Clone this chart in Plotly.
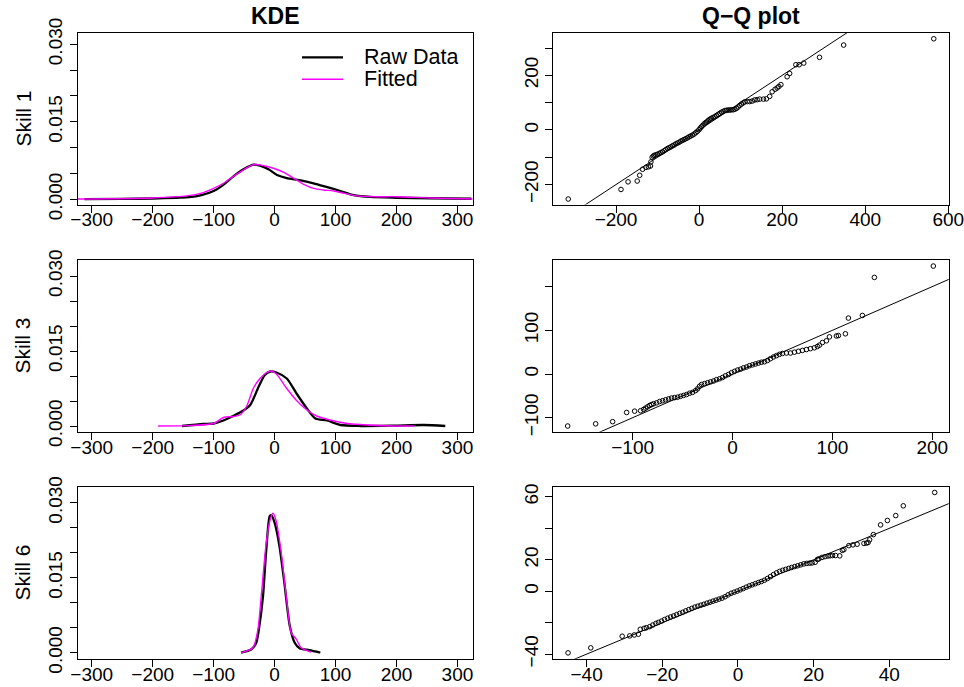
import plotly.graph_objects as go

# ---------------- data ----------------
# KDE curves (x, density)
k1_raw_x = [-312, -250, -200, -160, -140, -120, -100, -84, -68, -51, -35, -24, -10, 4, 20, 41, 64, 85, 108, 130, 157, 200, 255, 323]
k1_raw_y = [0.00003, 0.00008, 0.00015, 0.0003, 0.0004, 0.0008, 0.0016, 0.0028, 0.0044, 0.0058, 0.0067, 0.0065, 0.0058, 0.0047,
            0.0041, 0.0037, 0.0031, 0.0024, 0.0016, 0.0008, 0.00045, 0.0003, 0.0002, 0.0001]
k1_fit_x = [-324, -200, -144, -117, -100, -84, -68, -51, -35, -18, -2, 15, 31, 48, 64, 80, 97, 113, 135, 168, 200, 255, 325]
k1_fit_y = [0.00006, 0.00026, 0.00065, 0.0013, 0.0021, 0.0031, 0.0044, 0.0057, 0.0067, 0.0065, 0.006, 0.0052, 0.0041, 0.0029,
            0.0021, 0.0018, 0.0016, 0.0012, 0.00065, 0.0005, 0.0005, 0.00026, 0.00006]

k3_raw_x = [-152, -117, -100, -84, -68, -51, -40, -26, -16, -7, 3, 20, 36, 53, 67, 86, 108, 141, 196, 245, 280]
k3_raw_y = [0.0, 0.0004, 0.0005, 0.0011, 0.002, 0.0031, 0.0042, 0.0079, 0.0102, 0.0109, 0.0107, 0.0095, 0.0065, 0.0035,
            0.0015, 0.0011, 0.0002, 0.0, 0.00007, 0.0002, 0.0]
k3_fit_x = [-191, -144, -100, -84, -68, -57, -46, -35, -24, -13, -5, 3, 20, 36, 53, 69, 91, 119, 152, 196, 229]
k3_fit_y = [0.0, 0.00007, 0.0005, 0.0017, 0.0019, 0.0022, 0.0039, 0.0075, 0.0095, 0.0107, 0.011, 0.0104, 0.0075, 0.0051,
            0.0032, 0.002, 0.0012, 0.0005, 0.0002, 0.0, 0.0]

k6_raw_x = [-55, -38, -30, -25, -19, -14, -8, -5.5, 0, 8, 16, 25, 33, 41, 57, 75]
k6_raw_y = [0.0, 0.0007, 0.002, 0.0053, 0.0113, 0.02, 0.0273, 0.0275, 0.026, 0.0213, 0.014, 0.0053, 0.002, 0.0009, 0.0005, 0.0]
k6_fit_x = [-55, -35.5, -27.3, -21.9, -13.7, -7.1, -2.7, 2.7, 10.9, 19.1, 27.3, 35.5, 43.7, 60]
k6_fit_y = [0.0, 0.001, 0.0047, 0.0113, 0.022, 0.0267, 0.0279, 0.0263, 0.02, 0.0113, 0.004, 0.0027, 0.001, 0.0001]

# Q-Q points (fitted quantiles vs raw quantiles)
q1_x = [-315, -188, -171, -149, -143, -136, -128, -122, -117, -116, -113, -110,
        -108, -104, -100, -96, -92, -88, -84, -80, -76, -72, -68, -64, -60, -56, -52, -48, -44, -40, -36, -32, -28, -24,
        -20, -16, -12, -8, -4, 0, 3, 6, 9, 12, 15, 18, 21, 24, 27, 30, 34, 38, 42, 46, 50, 54, 58, 62, 66, 70, 74, 78,
        82, 86, 90, 94, 98, 102, 106, 110,
        116, 122, 128, 134, 140, 146, 155, 162, 170, 176, 183, 188, 192, 197, 212, 218, 233, 241, 252, 290, 348, 565]
q1_y = [-253, -218, -190, -187, -166, -144, -137, -135, -132, -117, -100, -96,
        -93, -91, -89, -86, -83, -80, -76, -72, -68, -65, -62, -58, -55, -51, -48, -45, -41, -38, -35, -32, -29, -25,
        -22, -19, -15, -10, -5, 1, 7, 12, 17, 22, 26, 29, 33, 37, 40, 43, 46, 49, 53, 57, 61, 65, 68, 71, 72, 73, 73, 74,
        74, 76, 79, 84, 90, 95, 99, 103,
        104, 104, 106, 110, 111, 113, 113, 114, 123, 140, 149, 154, 159, 166, 195, 207, 239, 239, 245, 266, 311, 334]

q3_x = [-165, -137, -120, -106, -98, -92, -89,
        -87, -85, -83, -81, -79, -76, -73, -70, -67, -64, -61, -58, -55, -52, -49, -46, -43, -40, -37, -35, -33, -31,
        -28, -25, -22, -19, -16, -13, -10, -7, -4, -1, 2, 5, 8, 11, 14, 17, 20, 23, 26, 29, 32, 35, 38, 41, 44, 47, 50,
        54, 58, 62, 66, 70, 74, 78, 82,
        85, 87, 90, 94, 97, 104, 106, 113, 116, 130, 142, 201]
q3_y = [-119, -114, -109, -88, -85, -84, -81,
        -78, -75, -72, -70, -68, -66, -63, -61, -59, -57, -55, -54, -53, -51, -49, -47, -44, -42, -38, -34, -28, -24,
        -22, -20, -18, -16, -13, -11, -8, -4, -1, 3, 6, 9, 11, 14, 16, 19, 21, 23, 25, 27, 28, 31, 35, 39, 42, 45, 47,
        48, 48, 50, 52, 54, 56, 58, 60,
        63, 66, 72, 76, 85, 87, 88, 92, 128, 134, 221, 247]

q6_x = [-44.9, -38.9, -30.6, -28.6, -27.4, -26.3, -25.8, -24.8, -24.2,
        -23.3, -22.5, -21.7, -21.0, -20.2, -19.4, -18.6, -17.8, -17.0, -16.2, -15.4, -14.6, -13.8, -13.0, -12.2, -11.4,
        -10.6, -9.8, -9.0, -8.2, -7.4, -6.6, -5.8, -5.0, -4.2, -3.4, -2.6, -1.8, -1.0, -0.2, 0.6, 1.4, 2.2, 3.0, 3.8,
        4.6, 5.4, 6.2, 7.0, 7.8, 8.6, 9.4, 10.2, 11.0, 11.8, 12.6, 13.4, 14.2, 15.0, 15.8, 16.6, 17.4, 18.2, 19.0,
        19.6, 20.4, 21.0, 21.4, 22.2, 23.0, 23.8, 24.4, 25.0, 25.8, 26.9, 27.6, 28.0, 29.3, 30.4, 31.5, 33.3, 34.0,
        34.4, 34.8, 35.8, 37.7, 39.5, 41.7, 43.7, 52.0]
q6_y = [-39.2, -36.0, -28.6, -28.4, -27.8, -27.3, -24.2, -23.6, -23.2,
        -22.5, -21.5, -20.5, -19.8, -19.0, -18.0, -17.2, -16.4, -15.7, -14.9, -14.1, -13.4, -12.5, -11.7, -10.9, -10.1,
        -9.5, -8.9, -8.3, -7.6, -7.0, -6.3, -5.7, -5.0, -4.4, -3.5, -2.3, -1.3, -0.6, 0.1, 0.9, 1.7, 2.6, 3.4, 4.1,
        4.8, 5.5, 6.2, 7.0, 8.1, 9.3, 10.6, 11.7, 12.6, 13.3, 13.9, 14.5, 15.1, 15.7, 16.2, 16.8, 17.4, 17.7, 17.9,
        18.0, 18.4, 20.2, 20.6, 21.5, 22.0, 22.4, 22.6, 22.7, 22.7, 22.5, 26.0, 26.5, 29.0, 29.5, 29.9, 30.4, 30.6,
        31.0, 32.7, 36.0, 42.2, 45.0, 48.1, 54.3, 62.8]

# reference line y = a + b x
qq_line_a = [0, 0, 0]
qq_line_b = [1, 1, 1]

skill_labels = ["Skill 1", "Skill 3", "Skill 6"]
col_titles = ["KDE", "Q\u2212Q plot"]
legend_labels = ["Raw Data", "Fitted"]

kde_ticks = [0, 0.005, 0.010, 0.015, 0.020, 0.025, 0.030]
kde_ticktext = ["0.000", "", "", "0.015", "", "", "0.030"]
kde_xticks = [-300, -200, -100, 0, 100, 200, 300]
q1_xticks = [-200, 0, 200, 400, 600]
q1_yticks = [-200, -100, 0, 100, 200, 300]
q1_ytext = ["\u2212200", "", "0", "", "200", ""]
q3_xticks = [-100, 0, 100, 200]
q3_yticks = [-100, 0, 100, 200]
q3_ytext = ["\u2212100", "0", "100", ""]
q6_xticks = [-40, -20, 0, 20, 40]
q6_yticks = [-40, -20, 0, 20, 40, 60]
q6_ytext = ["\u221240", "", "0", "20", "", "60"]

# ---------------- layout helpers ----------------
W, H = 964, 687
FONT = "Liberation Sans, Arial, Helvetica, sans-serif"
TICKFONT = 19

col_px = [(77.7, 472.7), (553.3, 948.7)]
row_px = [(32.5, 204.5), (259.5, 431.7), (486.5, 658.7)]

def xdom(c):
    return [col_px[c][0] / W, col_px[c][1] / W]

def ydom(r):
    return [1 - row_px[r][1] / H, 1 - row_px[r][0] / H]

fig = go.Figure()

kde_sets = [(k1_raw_x, k1_raw_y, k1_fit_x, k1_fit_y),
            (k3_raw_x, k3_raw_y, k3_fit_x, k3_fit_y),
            (k6_raw_x, k6_raw_y, k6_fit_x, k6_fit_y)]
qq_sets = [(q1_x, q1_y), (q3_x, q3_y), (q6_x, q6_y)]

kde_yranges = [[-0.00101, 0.03228], [-0.00114, 0.0333], [-0.0012, 0.03324]]
kde_xrange = [-323, 325]
qq_xranges = [[-351, 601], [-179.4, 216.4], [-48.8, 55.7]]
qq_yranges = [[-273, 357], [-132, 262], [-42.9, 66.6]]
qq_xticks = [q1_xticks, q3_xticks, q6_xticks]
qq_yticks = [q1_yticks, q3_yticks, q6_yticks]
qq_ytext = [q1_ytext, q3_ytext, q6_ytext]

def axis_common():
    return dict(showline=True, mirror=True, linecolor="black", linewidth=1,
                ticks="outside", ticklen=7, tickwidth=1, tickcolor="black",
                showgrid=False, zeroline=False, automargin=False, ticklabeloverflow="allow",
                tickfont=dict(family=FONT, size=TICKFONT, color="black"))

XSTAND = -9

layout = {}
for r in range(3):
    # KDE panel
    ax_i = 2 * r + 1
    xa = "xaxis" if ax_i == 1 else f"xaxis{ax_i}"
    ya = "yaxis" if ax_i == 1 else f"yaxis{ax_i}"
    xr = "x" if ax_i == 1 else f"x{ax_i}"
    yr = "y" if ax_i == 1 else f"y{ax_i}"
    rx, ry, fx, fy = kde_sets[r]
    fig.add_trace(go.Scatter(x=rx, y=ry, mode="lines", line=dict(color="black", width=2.3, shape="spline", smoothing=0.7),
                             xaxis=xr, yaxis=yr, showlegend=False))
    fig.add_trace(go.Scatter(x=fx, y=fy, mode="lines", line=dict(color="#ff00ff", width=1.4, shape="spline", smoothing=0.7),
                             xaxis=xr, yaxis=yr, showlegend=False))
    layout[xa] = dict(domain=xdom(0), range=kde_xrange, anchor=yr, tickvals=kde_xticks,
                      ticklabelstandoff=XSTAND, **axis_common())
    layout[ya] = dict(domain=ydom(r), range=kde_yranges[r], anchor=xr, tickvals=kde_ticks, ticktext=kde_ticktext,
                      tickangle=-90, **axis_common())

    # QQ panel
    ax_j = 2 * r + 2
    xa = f"xaxis{ax_j}"
    ya = f"yaxis{ax_j}"
    xr = f"x{ax_j}"
    yr = f"y{ax_j}"
    qx, qy = qq_sets[r]
    lo, hi = qq_xranges[r]
    fig.add_trace(go.Scatter(x=[lo - 1000, hi + 1000],
                             y=[qq_line_a[r] + qq_line_b[r] * (lo - 1000), qq_line_a[r] + qq_line_b[r] * (hi + 1000)],
                             mode="lines", line=dict(color="black", width=1), xaxis=xr, yaxis=yr, showlegend=False))
    fig.add_trace(go.Scatter(x=qx, y=qy, mode="markers",
                             marker=dict(symbol="circle-open", size=4.6, color="black", line=dict(width=1, color="black")),
                             xaxis=xr, yaxis=yr, showlegend=False, cliponaxis=True))
    layout[xa] = dict(domain=xdom(1), range=qq_xranges[r], anchor=yr, tickvals=qq_xticks[r],
                      ticklabelstandoff=XSTAND, **axis_common())
    layout[ya] = dict(domain=ydom(r), range=qq_yranges[r], anchor=xr, tickvals=qq_yticks[r], ticktext=qq_ytext[r],
                      tickangle=-90, **axis_common())

annotations = []
# column titles
for c in range(2):
    annotations.append(dict(text=f"<b>{col_titles[c]}</b>", x=(col_px[c][0] + col_px[c][1]) / 2 / W, y=1 - 16 / H,
                            xref="paper", yref="paper", showarrow=False, xanchor="center", yanchor="middle",
                            font=dict(family=FONT, size=23, color="black")))
# row labels
for r in range(3):
    annotations.append(dict(text=skill_labels[r], x=23 / W, y=1 - (row_px[r][0] + row_px[r][1]) / 2 / H,
                            xref="paper", yref="paper", showarrow=False, xanchor="center", yanchor="middle",
                            textangle=-90, font=dict(family=FONT, size=21, color="black")))
# legend (top-left panel)
leg_y = [57.3, 79.3]
leg_col = ["black", "#ff00ff"]
leg_w = [2.3, 1.4]
shapes = []
for i in range(2):
    shapes.append(dict(type="line", xref="paper", yref="paper", x0=302 / W, x1=343 / W,
                       y0=1 - leg_y[i] / H, y1=1 - leg_y[i] / H, line=dict(color=leg_col[i], width=leg_w[i])))
    annotations.append(dict(text=legend_labels[i], x=363 / W, y=1 - leg_y[i] / H, xref="paper", yref="paper",
                            showarrow=False, xanchor="left", yanchor="middle", height=20, borderpad=0,
                            font=dict(family=FONT, size=21.5, color="black")))

fig.update_layout(width=W, height=H, margin=dict(l=0, r=0, t=0, b=0, pad=0), autosize=False,
                  paper_bgcolor="white", plot_bgcolor="white",
                  showlegend=False, annotations=annotations, shapes=shapes,
                  font=dict(family=FONT, color="black"), **layout)

fig.write_html("out.html",
               post_script="document.body.style.margin='0';document.body.style.padding='0';"
                           "document.body.style.overflow='hidden';")
